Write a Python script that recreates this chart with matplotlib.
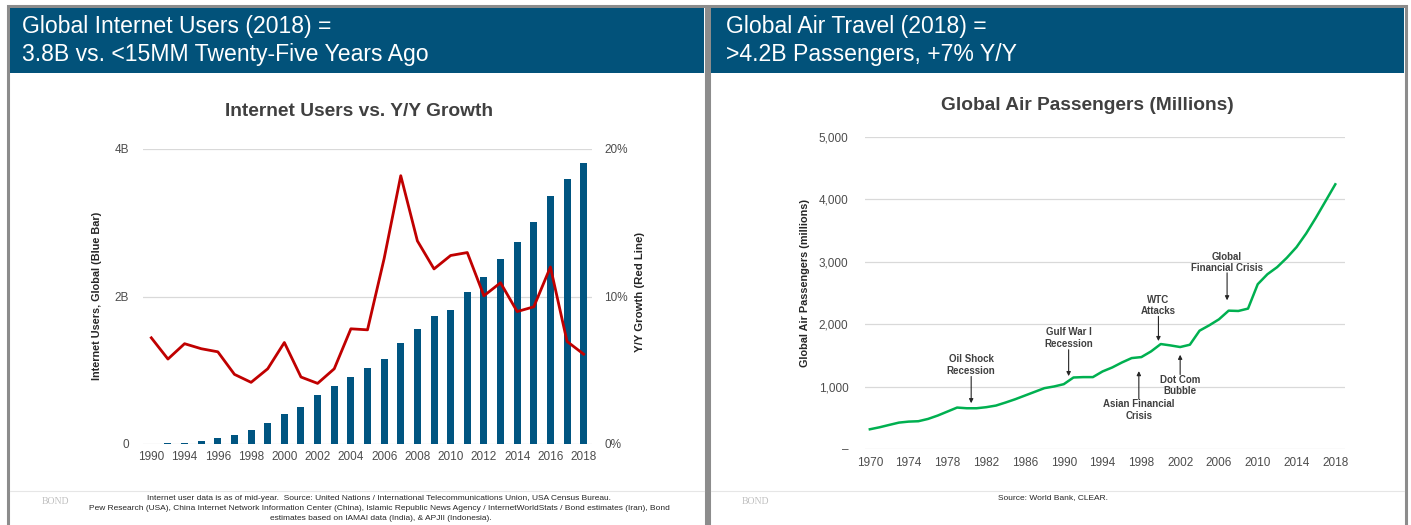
import matplotlib
matplotlib.use("Agg")
import matplotlib.pyplot as plt
from matplotlib.patches import Rectangle
from matplotlib.lines import Line2D

plt.rcParams['font.family'] = ['Liberation Sans', 'DejaVu Sans']

# ---------------- data ----------------
user_years = [1990] + list(range(1993, 2019))
user_tick_labels = ["1990", "1994", "1996", "1998", "2000", "2002", "2004", "2006",
                    "2008", "2010", "2012", "2014", "2016", "2018"]
users_b = [0.003, 0.01, 0.02, 0.04, 0.08, 0.12, 0.185, 0.28, 0.41, 0.50, 0.66, 0.78,
           0.91, 1.03, 1.15, 1.37, 1.555, 1.74, 1.82, 2.06, 2.265, 2.51, 2.74, 3.005,
           3.36, 3.59, 3.815]
growth_pct = [7.2, 5.76, 6.8, 6.46, 6.25, 4.72, 4.18, 5.1, 6.88, 4.54, 4.11, 5.1,
              7.81, 7.74, 12.57, 18.19, 13.77, 11.87, 12.78, 12.98, 10.05, 10.93,
              8.98, 9.3, 12.0, 6.95, 6.09]

air_years = list(range(1970, 2019))
air_pax = [316, 348, 386, 423, 439, 445, 482, 536, 600, 664, 653, 653, 670, 696,
           745, 798, 857, 916, 975, 1002, 1039, 1146, 1152, 1152, 1243, 1307, 1387,
           1457, 1473, 1564, 1682, 1660, 1634, 1671, 1896, 1982, 2078, 2217, 2212,
           2250, 2641, 2801, 2914, 3064, 3235, 3455, 3707, 3974, 4242]
air_ticks = list(range(1970, 2019, 4))

events = [("Oil Shock\nRecession", 1980.45, 1345, 1162, 734),
          ("Gulf War I\nRecession", 1990.5, 1780, 1591, 1168),
          ("WTC\nAttacks", 1999.76, 2305, 2126, 1730),
          ("Global\nFinancial Crisis", 2006.84, 2990, 2823, 2383),
          ("Asian Financial\nCrisis", 1997.74, 624, 803, 1248),
          ("Dot Com\nBubble", 2002.0, 1015, 1194, 1510)]

# ---------------- layout helpers ----------------
W, H = 1411, 525
fig = plt.figure(figsize=(W / 100, H / 100), dpi=100)
fig.patch.set_facecolor("white")

def fx(x):
    return x / W

def fy(y):
    return 1 - y / H

def rect(x0, y0, x1, y1, **kw):
    fig.patches.append(Rectangle((fx(x0), fy(y1)), fx(x1) - fx(x0), fy(y0) - fy(y1),
                                 transform=fig.transFigure, **kw))

BLUE_HDR = "#02527a"
BORDER = "#8c8c8c"
TXT = "#4d4d4d"
DARK = "#404040"

# panels
for (x0, x1) in [(8, 706), (709, 1406)]:
    rect(x0, 6, x1, 530, facecolor="white", edgecolor=BORDER, linewidth=2.2, zorder=-3)
    rect(x0 + 2, 8, x1 - 2, 73, facecolor=BLUE_HDR, edgecolor="none", zorder=-2)
    fig.lines.append(Line2D([fx(x0 + 2), fx(x1 - 2)], [fy(491), fy(491)],
                            transform=fig.transFigure, color="#e6e6e6", lw=0.8,
                            zorder=-1))

# headers
HFS = 16.6
fig.text(fx(22), fy(26), "Global Internet Users (2018) =", color="white",
         fontsize=HFS, va="center", ha="left")
fig.text(fx(22), fy(55), "3.8B vs. <15MM Twenty-Five Years Ago", color="white",
         fontsize=HFS, va="center", ha="left")
fig.text(fx(726), fy(26), "Global Air Travel (2018) =", color="white",
         fontsize=HFS, va="center", ha="left")
fig.text(fx(726), fy(55), ">4.2B Passengers, +7% Y/Y", color="white",
         fontsize=HFS, va="center", ha="left")

# footers
fig.text(fx(55), fy(502), "BOND", family="Liberation Serif", color="#c0c0c0",
         fontsize=7, ha="center", va="center")
fig.text(fx(755), fy(502), "BOND", family="Liberation Serif", color="#c0c0c0",
         fontsize=7, ha="center", va="center")
FFS = 6.0
fig.text(fx(379), fy(498), "Internet user data is as of mid-year.  Source: United Nations / International Telecommunications Union, USA Census Bureau.",
         fontsize=FFS, color="#262626", ha="center", va="center")
fig.text(fx(379), fy(508), "Pew Research (USA), China Internet Network Information Center (China), Islamic Republic News Agency / InternetWorldStats / Bond estimates (Iran), Bond",
         fontsize=FFS, color="#262626", ha="center", va="center")
fig.text(fx(381), fy(518), "estimates based on IAMAI data (India), & APJII (Indonesia).",
         fontsize=FFS, color="#262626", ha="center", va="center")
fig.text(fx(1053), fy(498), "Source: World Bank, CLEAR.",
         fontsize=FFS, color="#262626", ha="center", va="center")

TFS = 8.5

# ---------------- left chart ----------------
axL = fig.add_axes([fx(143), fy(444), fx(592) - fx(143), fy(149) - fy(444)])
axL.patch.set_alpha(0)
xpos = list(range(len(user_years)))
axL.bar(xpos, users_b, width=0.42, color="#005581", zorder=2)
axL.set_xlim(-0.5, len(user_years) - 0.5)
axL.set_ylim(0, 4)
axL.set_yticks([0, 2, 4])
axL.set_yticklabels(["0", "2B", "4B"])
axL.set_xticks(xpos[::2])
axL.set_xticklabels(user_tick_labels)
axL.grid(axis="y", color="#d9d9d9", lw=0.9, zorder=0)
axL.set_axisbelow(True)
for s in axL.spines.values():
    s.set_visible(False)
axL.tick_params(length=0, labelsize=TFS, labelcolor=TXT)
axL.tick_params(axis="y", pad=10)
axL.tick_params(axis="x", pad=5)

axR = axL.twinx()
axR.patch.set_alpha(0)
axR.plot(xpos, growth_pct, color="#c00000", lw=2.0, zorder=3)
axR.set_ylim(0, 20)
axR.set_yticks([0, 10, 20])
axR.set_yticklabels(["0%", "10%", "20%"])
for s in axR.spines.values():
    s.set_visible(False)
axR.tick_params(length=0, labelsize=TFS, labelcolor=TXT, pad=9)

fig.text(fx(359), fy(111), "Internet Users vs. Y/Y Growth", fontsize=13.8,
         fontweight="bold", color=DARK, ha="center", va="center")
fig.text(fx(97), fy(296), "Internet Users, Global (Blue Bar)", fontsize=7.8,
         fontweight="bold", color="#262626", rotation=90, ha="center", va="center")
fig.text(fx(640), fy(292), "Y/Y Growth (Red Line)", fontsize=8.2,
         fontweight="bold", color="#262626", rotation=90, ha="center", va="center")

# ---------------- right chart ----------------
ax2 = fig.add_axes([fx(865), fy(449), fx(1345) - fx(865), fy(137) - fy(449)])
ax2.patch.set_alpha(0)
ax2.plot(air_years, air_pax, color="#00b050", lw=1.8, zorder=3)
ax2.set_xlim(1969.5, 2019.0)
ax2.set_ylim(0, 5000)
ax2.set_yticks([0, 1000, 2000, 3000, 4000, 5000])
ax2.set_yticklabels(["\u2013", "1,000", "2,000", "3,000", "4,000", "5,000"])
ax2.set_xticks(air_ticks)
ax2.set_xticklabels([str(t) for t in air_ticks])
ax2.grid(axis="y", color="#d9d9d9", lw=0.9, zorder=0)
ax2.set_axisbelow(True)
for s in ax2.spines.values():
    s.set_visible(False)
ax2.tick_params(length=0, labelsize=TFS, labelcolor=TXT)
ax2.tick_params(axis="y", pad=12)
ax2.tick_params(axis="x", pad=6)

for label, x, ytext, y0, y1 in events:
    ax2.text(x, ytext, label, fontsize=7, fontweight="bold", color=DARK,
             ha="center", va="center", linespacing=1.15)
    ax2.annotate("", xy=(x, y1), xytext=(x, y0),
                 arrowprops=dict(arrowstyle="-|>", color="#262626", lw=0.8,
                                 mutation_scale=6, shrinkA=0, shrinkB=0))

fig.text(fx(1087), fy(105), "Global Air Passengers (Millions)", fontsize=13.8,
         fontweight="bold", color=DARK, ha="center", va="center")
fig.text(fx(805), fy(283), "Global Air Passengers (millions)", fontsize=7.8,
         fontweight="bold", color="#262626", rotation=90, ha="center", va="center")

fig.savefig("out.png", dpi=100, facecolor="white")
